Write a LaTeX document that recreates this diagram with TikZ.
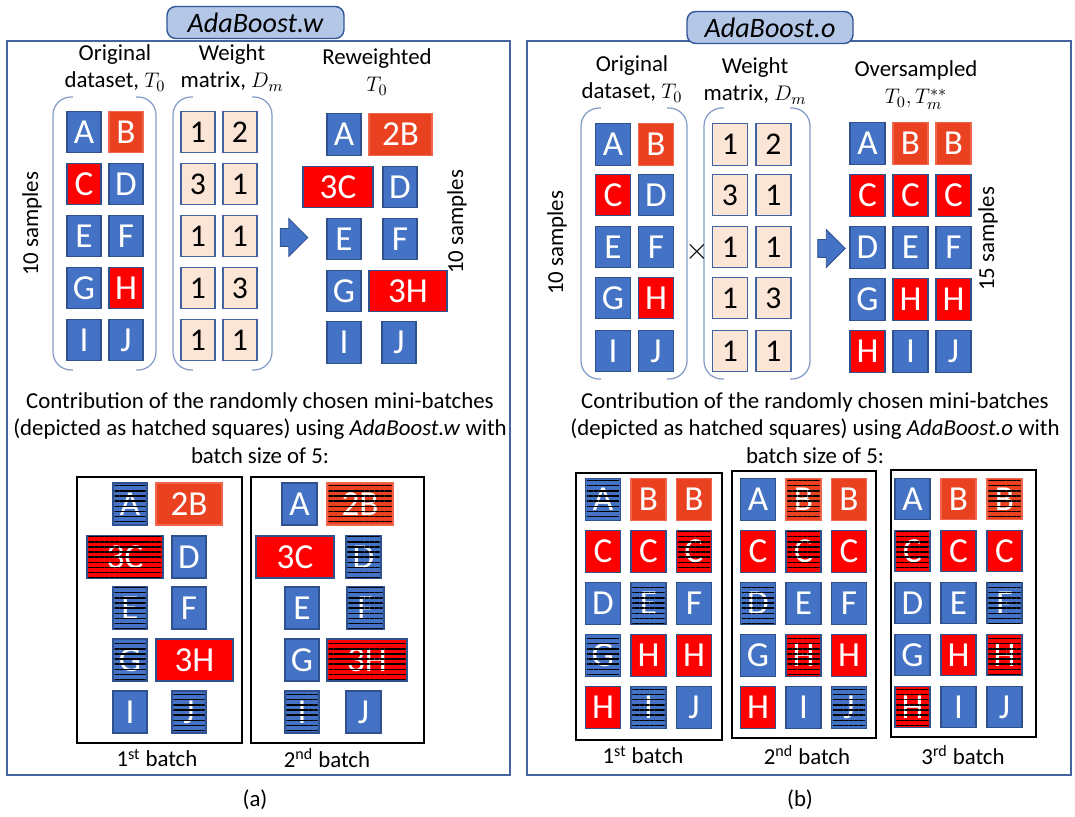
\documentclass[tikz,border=0pt]{standalone}
\usepackage{fontspec}
\setmainfont{Carlito}
\usetikzlibrary{shapes.arrows, patterns.meta}
\definecolor{cblue}{RGB}{68,114,196}
\definecolor{bdr}{RGB}{47,82,143}
\definecolor{cred}{RGB}{255,0,0}
\definecolor{corng}{RGB}{234,65,32}
\definecolor{cpeach}{RGB}{251,229,214}
\definecolor{cwbdr}{RGB}{65,100,160}
\definecolor{cframe}{RGB}{68,100,160}
\definecolor{ctfill}{RGB}{180,199,231}
\definecolor{ctdraw}{RGB}{47,85,151}
\definecolor{cbrk}{RGB}{130,155,200}

\begin{document}
\begin{tikzpicture}[x=0.02cm, y=-0.02cm,
  sq/.style={draw=bdr, line width=0.6pt, minimum width=0.7cm, minimum height=0.83cm,
             inner sep=0pt, text=white, font=\fontsize{20}{24}\selectfont},
  blu/.style={sq, fill=cblue},
  red/.style={sq, fill=cred},
  org/.style={sq, fill=corng, draw=corng!80!white},
  wgt/.style={sq, fill=cpeach, draw=cwbdr, text=black, font=\fontsize{18}{22}\selectfont},
  hatch/.style={pattern={Lines[angle=0, distance=2.9pt, line width=0.75pt]}},
  lbl/.style={font=\fontsize{13}{15.5}\selectfont, align=center},
  panel/.style={draw=cframe, line width=1.1pt},
  ttl/.style={draw=ctdraw, fill=ctfill, rounded corners=5pt, line width=0.8pt,
              minimum height=0.64cm, font=\fontsize{16}{19}\selectfont\itshape},
  brk/.style={draw=cbrk, line width=0.7pt, rounded corners=0.36cm},
  batch/.style={draw=black, line width=1.1pt},
  blk/.style={single arrow, fill=cblue, draw=bdr, line width=0.5pt, minimum height=0.55cm,
              single arrow head extend=0.2cm, inner sep=0.17cm}
]
\useasboundingbox (0,0) rectangle (1075,817);

% panels and titles
\draw[panel] (7,41) rectangle (510,775);
\draw[panel] (527,41) rectangle (1071,775);
\node[ttl, minimum width=3.54cm] (ttlw) at (255.5,22.5) {AdaBoost.w};
\node[ttl, minimum width=3.32cm] (ttlo) at (770,27.5) {AdaBoost.o};

%% (a) AdaBoost.w
\node[lbl] (lorig) at (115,68) {Original\\dataset, $T_0$};
\node[lbl] (lwgt) at (232,68) {Weight\\matrix, $D_m$};
\node[lbl] (lrew) at (377,72) {Reweighted\\$T_0$};
\node[lbl, rotate=90] (lsmp1) at (32,224) {10 samples};
\node[lbl, rotate=90] (lsmp2) at (457,222) {10 samples};

\draw[brk] (73,97) -- (53,97) -- (53,370) -- (73,370);
\draw[brk] (136,97) -- (156,97) -- (156,370) -- (136,370);
\draw[brk] (193,97) -- (173,97) -- (173,370) -- (193,370);
\draw[brk] (252,97) -- (272,97) -- (272,370) -- (252,370);

\foreach \n/\s/\x/\y in {A/blu/84/132, B/org/126/132, C/red/84/184, D/blu/126/184,
    E/blu/84/236, F/blu/126/236, G/blu/84/288, H/red/126/288, I/blu/84/340, J/blu/126/340}
  \node[\s, minimum width=0.68cm] (lo\n) at (\x,\y) {\n};
\foreach \n/\v/\x/\y in {1/1/198/132, 2/2/240/132, 3/3/198/184, 4/1/240/184, 5/1/198/236,
    6/1/240/236, 7/1/198/288, 8/3/240/288, 9/1/198/340, 10/1/240/340}
  \node[wgt, minimum width=0.68cm] (lw\n) at (\x,\y) {\v};

\node[blk] (larr) at (289.5,237.5) {};

\foreach \n/\s/\w/\x/\y in {A/blu/0.68/344/134.5, 2B/org/1.26/400.5/134.5, 3C/red/1.4/338/187,
    D/blu/0.68/400/187, E/blu/0.68/344/239, F/blu/0.68/400/239, G/blu/0.68/344/291,
    3H/red/1.56/408/291, I/blu/0.68/344/342.5, J/blu/0.68/399/342.5}
  \node[\s, minimum width=\w cm] (lr\n) at (\x,\y) {\n};

\node[lbl] (lcontr) at (260,428) {Contribution of the randomly chosen mini-batches\\
  (depicted as hatched squares) using \textit{AdaBoost.w} with\\batch size of 5:};

\draw[batch] (77,477) rectangle (242,743);
\draw[batch] (251,477) rectangle (424,743);
\foreach \n/\s/\w/\x/\y in {A/blu/0.68/130/504, 2B/org/1.32/189/504, 3C/red/1.52/125/557,
    D/blu/0.68/189/557, E/blu/0.68/130/608, F/blu/0.68/189/608, G/blu/0.68/130/660,
    3H/red/1.54/194.5/660, I/blu/0.68/130/712, J/blu/0.68/189/712}
  \node[\s, minimum width=\w cm, minimum height=0.84cm] (lbA\n) at (\x,\y) {\n};
\foreach \n/\s/\w/\x/\y in {A/blu/0.7/299.5/504, 2B/org/1.32/360/504, 3C/red/1.56/295/557,
    D/blu/0.7/363.5/557, E/blu/0.68/302/608, F/blu/0.74/365.5/608, G/blu/0.68/302/660,
    3H/red/1.6/367/660, I/blu/0.68/302/712, J/blu/0.7/363.5/712}
  \node[\s, minimum width=\w cm, minimum height=0.84cm] (lbB\n) at (\x,\y) {\n};
\foreach \h in {lbAA, lbA3C, lbAE, lbAG, lbAJ, lbB2B, lbBD, lbBF, lbB3H, lbBI}
  \fill[hatch] ([shift={(2,-1)}]\h.south west) rectangle ([shift={(-2,1)}]\h.north east);

\node[lbl] (lbAl) at (157,758) {1\textsuperscript{st} batch};
\node[lbl] (lbBl) at (327,758) {2\textsuperscript{nd} batch};
\node[lbl] (capa) at (255,800) {(a)};

%% (b) AdaBoost.o
\node[lbl] (rorig) at (632,79) {Original\\dataset, $T_0$};
\node[lbl] (rwgt) at (755,81) {Weight\\matrix, $D_m$};
\node[lbl] (rovs) at (916,85) {Oversampled\\$T_0, T_m^{**}$};
\node[lbl, rotate=90] (rsmp1) at (557,243) {10 samples};
\node[lbl, rotate=90] (rsmp2) at (988,239) {15 samples};

\draw[brk] (601,108) -- (581,108) -- (581,379) -- (601,379);
\draw[brk] (667,108) -- (687,108) -- (687,379) -- (667,379);
\draw[brk] (724,108) -- (704,108) -- (704,379) -- (724,379);
\draw[brk] (790,108) -- (810,108) -- (810,379) -- (790,379);

\foreach \n/\s/\x/\y in {A/blu/613/144.5, B/org/656/144.5, C/red/613/195, D/blu/656/195,
    E/blu/613/247, F/blu/656/247, G/blu/613/298, H/red/656/298, I/blu/613/351, J/blu/656/351}
  \node[\s] (ro\n) at (\x,\y) {\n};
\foreach \n/\v/\x/\y in {1/1/730/144.5, 2/2/773.5/144.5, 3/3/730/195, 4/1/773.5/195, 5/1/730/247,
    6/1/773.5/247, 7/1/730/298, 8/3/773.5/298, 9/1/730/351, 10/1/773.5/351}
  \node[wgt] (rw\n) at (\x,\y) {\v};
\node[font=\fontsize{18}{18}\selectfont] (times) at (697,252) {$\times$};

\node[blk] (rarr) at (827,248.5) {};

\node[lbl] (rcontr) at (815,428) {Contribution of the randomly chosen mini-batches\\
  (depicted as hatched squares) using \textit{AdaBoost.o} with\\batch size of 5:};

\draw[batch] (576,473) rectangle (722,740);
\draw[batch] (732,471) rectangle (876,738);
\draw[batch] (891,470) rectangle (1036,737);

% oversampled set and the three batches share one grid
\foreach \g/\gx/\gy/\dx in {os/867.5/143.5/43, rbA/603/499.5/45.5, rbB/758/499.5/45.5,
    rbC/912.5/499/46}
  \foreach \la/\sa/\lb/\sb/\lc/\sc [count=\i] in {A/blu/B/org/B/org, C/red/C/red/C/red,
      D/blu/E/blu/F/blu, G/blu/H/red/H/red, H/red/I/blu/J/blu} {
    \node[\sa] (\g-\i-1) at (\gx,{\gy+52*(\i-1)}) {\la};
    \node[\sb] (\g-\i-2) at ({\gx+\dx},{\gy+52*(\i-1)}) {\lb};
    \node[\sc] (\g-\i-3) at ({\gx+2*\dx},{\gy+52*(\i-1)}) {\lc};
  }
\foreach \h in {rbA-1-1, rbA-2-3, rbA-3-2, rbA-4-1, rbA-5-2,
    rbB-1-2, rbB-2-2, rbB-3-1, rbB-4-2, rbB-5-3,
    rbC-1-3, rbC-2-1, rbC-3-3, rbC-4-3, rbC-5-1}
  \fill[hatch] ([shift={(2,-1)}]\h.south west) rectangle ([shift={(-2,1)}]\h.north east);

\node[lbl] (rbAl) at (643,755) {1\textsuperscript{st} batch};
\node[lbl] (rbBl) at (807,755) {2\textsuperscript{nd} batch};
\node[lbl] (rbCl) at (963,755) {3\textsuperscript{rd} batch};
\node[lbl] (capb) at (800,800) {(b)};
\end{tikzpicture}
\end{document}
